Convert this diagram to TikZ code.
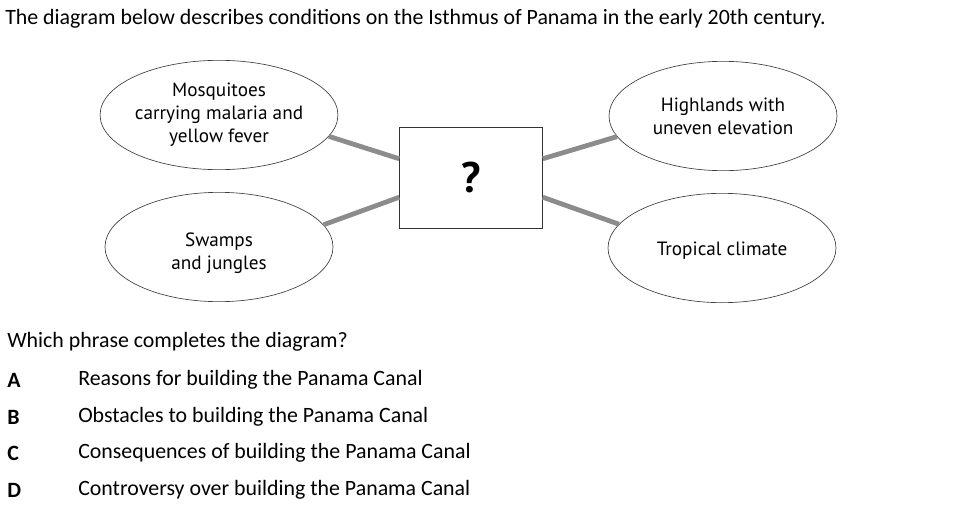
\documentclass[tikz,border=0pt]{standalone}
\usepackage{fontspec}
\setmainfont{Carlito}
\newfontfamily\diagfont{PT Sans}
\usetikzlibrary{shapes.geometric}

\begin{document}
\begin{tikzpicture}[x=0.75pt,y=0.75pt,yscale=-1,xscale=1,
  bubble/.style={draw=black!75,ellipse,line width=0.5pt,minimum width=171pt,minimum height=82pt,inner sep=0pt,align=center,font=\diagfont\fontsize{14.4}{17.3}\selectfont},
  qbox/.style={draw=black!80,line width=0.6pt,minimum width=107pt,minimum height=76pt,inner sep=0pt},
  link/.style={draw=black!45,line width=3.6pt},
  txt/.style={anchor=west,inner sep=0pt,font=\fontsize{16.4}{19}\selectfont},
  every node/.style={text=black}]
			\useasboundingbox (0,0) rectangle (962,517);

			\draw (5,19) node [txt] (title) {The diagram below describes conditions on the Isthmus of Panama in the early 20th century.};

			\draw (219,115) node [bubble] (mosq) {Mosquitoes\\carrying malaria and\\yellow fever};
			\draw (219,247) node [bubble] (swamp) {\rule{0pt}{20pt}Swamps\\and jungles};
			\draw (723,116) node [bubble] (high) {Highlands with\\uneven elevation};
			\draw (722,248) node [bubble] (trop) {\rule{0pt}{14pt}Tropical climate};
			\draw (471,178) node [qbox,font=\bfseries\diagfont\fontsize{32}{32}\selectfont] (box) {?};

			\draw [link] (mosq.-11) -- (box.165) ;
			\draw [link] (swamp.12) -- (box.195) ;
			\draw [link] (box.15) -- (high.191) ;
			\draw [link] (box.-15) -- (trop.167) ;

			\draw (7,342) node [txt] (quest) {Which phrase completes the diagram?};
			\draw (7,380) node [txt,font=\bfseries\fontsize{16.4}{19}\selectfont] (la) {A};
			\draw (78,380) node [txt] (ta) {Reasons for building the Panama Canal};
			\draw (7,417) node [txt,font=\bfseries\fontsize{16.4}{19}\selectfont] (lb) {B};
			\draw (78,417) node [txt] (tb) {Obstacles to building the Panama Canal};
			\draw (7,453) node [txt,font=\bfseries\fontsize{16.4}{19}\selectfont] (lc) {C};
			\draw (78,453) node [txt] (tc) {Consequences of building the Panama Canal};
			\draw (7,490) node [txt,font=\bfseries\fontsize{16.4}{19}\selectfont] (ld) {D};
			\draw (78,490) node [txt] (td) {Controversy over building the Panama Canal};
\end{tikzpicture}
\end{document}
